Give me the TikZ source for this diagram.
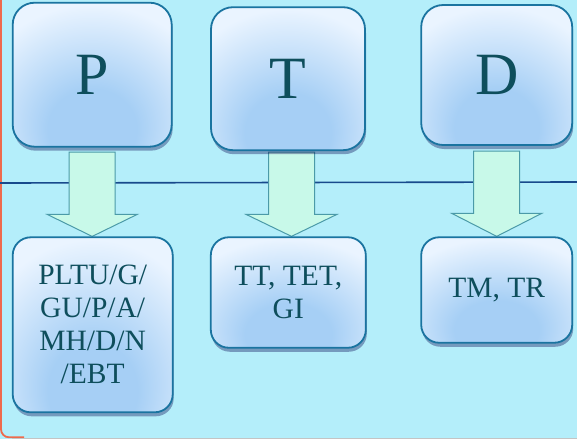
\documentclass[tikz,border=0pt]{standalone}
\usepackage{fontspec}
\setmainfont{Liberation Serif}
\usetikzlibrary{shadows,calc}
\definecolor{bgc}{HTML}{B4EEFA}
\definecolor{framec}{HTML}{EE6A4C}
\definecolor{edgec}{HTML}{C4C4C4}
\definecolor{linec}{HTML}{184A8C}
\definecolor{boxborder}{HTML}{1A74A0}
\definecolor{blight}{HTML}{EAF4FF}
\definecolor{bdeep}{HTML}{A6CFF5}
\definecolor{txtc}{HTML}{0E4E5C}
\definecolor{arrfill}{HTML}{C8F9E9}
\definecolor{arrdraw}{HTML}{4B9AA8}
\pgfdeclareradialshading{glow}{\pgfpoint{0bp}{-22bp}}{color(0bp)=(bdeep); color(14bp)=(bdeep); color(38bp)=(blight); color(100bp)=(blight)}
\pgfdeclarelayer{back}
\pgfsetlayers{back,main}
\tikzset{
  box/.style={draw=boxborder, line width=1.8pt, shading=glow, text=txtc,
    align=center, inner sep=0pt,
    drop shadow={shadow xshift=1pt, shadow yshift=-4pt, opacity=0.35, fill=black!70!blue}},
  topbox/.style={box, rounded corners=22pt, font=\fontsize{60}{64}\selectfont},
  lowbox/.style={box, rounded corners=18pt, font=\fontsize{29.5}{33}\selectfont},
  blockarrow/.style={fill=arrfill, draw=arrdraw, line width=1pt, line join=miter}
}
\begin{document}
\begin{tikzpicture}[x=1pt,y=-1pt]
\useasboundingbox (0,0) rectangle (577,439);
% boxes
\node[topbox, minimum width=159pt, minimum height=144pt] (P) at (92.2,74.7) {P};
\node[topbox, minimum width=154pt, minimum height=143pt] (T) at (288,78.7) {T};
\node[topbox, minimum width=151pt, minimum height=140pt] (D) at (496.7,75) {D};
\node[lowbox, minimum width=160pt, minimum height=175pt] (B1) at (92.7,324.8) {PLTU/G/\\GU/P/A/\\MH/D/N\\/EBT};
\node[lowbox, minimum width=155pt, minimum height=110.5pt] (B2) at (288.3,292.5) {TT, TET,\\GI};
\node[lowbox, minimum width=151pt, minimum height=105.5pt] (B3) at (496.7,290) {TM, TR};
\begin{pgfonlayer}{back}
\fill[bgc] (0,0) rectangle (577,439);
\draw[framec, line width=1.8pt, rounded corners=8pt] (1,-3) -- (1,437.3) -- (24,437.3);
\draw[edgec, line width=1.4pt] (12,438.6) -- (579,438.6);
\coordinate (L0) at (0,183);
\coordinate (L1) at (577,182);
\draw[linec, line width=1.6pt] (L0) -- (L1);
% block arrows
\draw[blockarrow] let \p1=(P.south), \p2=(B1.north) in
  (\x1-23pt,-152pt) -- (\x1+23pt,-152pt) -- (\x1+23pt,\y2+22pt) -- (\x1+45pt,\y2+22pt)
  -- (\x1,\y2) -- (\x1-45pt,\y2+22pt) -- (\x1-23pt,\y2+22pt) -- cycle;
\draw[blockarrow] let \p1=(T.south), \p2=(B2.north) in
  (\x1-19.5pt,-152pt) -- (\x1+26.5pt,-152pt) -- (\x1+26.5pt,\y2+22pt) -- (\x1+49pt,\y2+22pt)
  -- (\x1+3.5pt,\y2) -- (\x1-42pt,\y2+22pt) -- (\x1-19.5pt,\y2+22pt) -- cycle;
\draw[blockarrow] let \p1=(D.south), \p2=(B3.north) in
  (\x1-23pt,-151pt) -- (\x1+23pt,-151pt) -- (\x1+23pt,\y2+23pt) -- (\x1+45pt,\y2+23pt)
  -- (\x1,\y2) -- (\x1-45pt,\y2+23pt) -- (\x1-23pt,\y2+23pt) -- cycle;
\end{pgfonlayer}
\end{tikzpicture}
\end{document}
